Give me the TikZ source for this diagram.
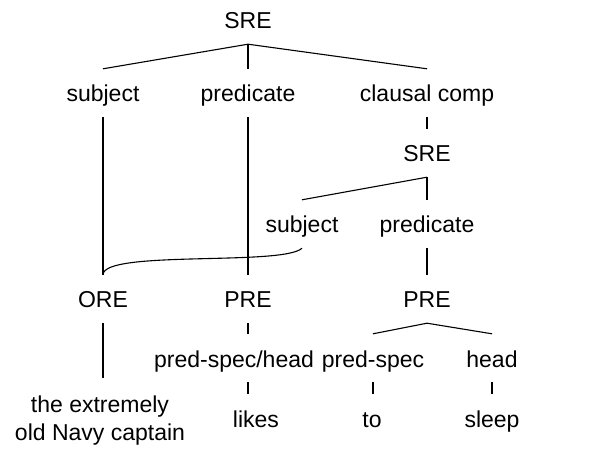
\documentclass[tikz,border=0pt]{standalone}
\usepackage{fontspec}
\setmainfont{Liberation Sans}
\begin{document}
\begin{tikzpicture}[x=1pt,y=1pt,
        lab/.style={anchor=base,inner xsep=2pt,inner ysep=0pt,text height=33pt,text depth=15pt,font=\fontsize{23}{28}\selectfont},
        rama/.style={line width=1.1pt}]
        \useasboundingbox (0,0) rectangle (592,-449);
        \node[lab] (sre) at (248,-29) {SRE}; % raiz
        \node[lab] (subj) at (103,-102) {subject};
        \node[lab] (pred) at (248,-102) {predicate};
        \node[lab] (clausal) at (427,-102) {clausal comp};
        \node[lab] (sre2) at (427,-162) {SRE}; % clausula
        \node[lab] (subj2) at (302,-233) {subject};
        \node[lab] (pred2) at (427,-233) {predicate};
        \node[lab] (ore) at (103,-308) {ORE};
        \node[lab] (pre1) at (248,-308) {PRE};
        \node[lab] (pre2) at (427,-308) {PRE};
        \node[lab] (psh) at (234,-367) {pred-spec/head};
        \node[lab] (pspec) at (373,-367) {pred-spec};
        \node[lab] (head) at (492,-367) {head};
        \node[lab,align=center,text height=62pt] (ext) at (100,-440) {the extremely\\old Navy captain}; % hojas
        \node[lab] (likes) at (256,-427) {likes};
        \node[lab] (to) at (372,-427) {to};
        \node[lab] (sleep) at (492,-427) {sleep};
        \draw[rama] (sre.south) -- (subj.north);
        \draw[rama] (sre.south) -- (pred.north);
        \draw[rama] (sre.south) -- (clausal.north);
        \draw[rama] (subj.south) -- (ore.north);
        \draw[rama] (pred.south) -- (pre1.north);
        \draw[rama] (clausal.south) -- (sre2.north);
        \draw[rama] (sre2.south) -- (subj2.north);
        \draw[rama] (sre2.south) -- (pred2.north);
        \draw[rama] (subj2.south) .. controls +(-19,-18) and +(0,25) .. (ore.north); % sujeto compartido
        \draw[rama] (pred2.south) -- (pre2.north);
        \draw[rama] (pre1.south) -- (psh.north -| pre1.south);
        \draw[rama] (psh.south -| pre1.south) -- (likes.north -| pre1.south);
        \draw[rama] (pre2.south) -- (pspec.north);
        \draw[rama] (pre2.south) -- (head.north);
        \draw[rama] (pspec.south) -- (to.north -| pspec.south);
        \draw[rama] (head.south) -- (sleep.north);
        \draw[rama] (ore.south) -- (ext.north -| ore.south);
\end{tikzpicture}
\end{document}
